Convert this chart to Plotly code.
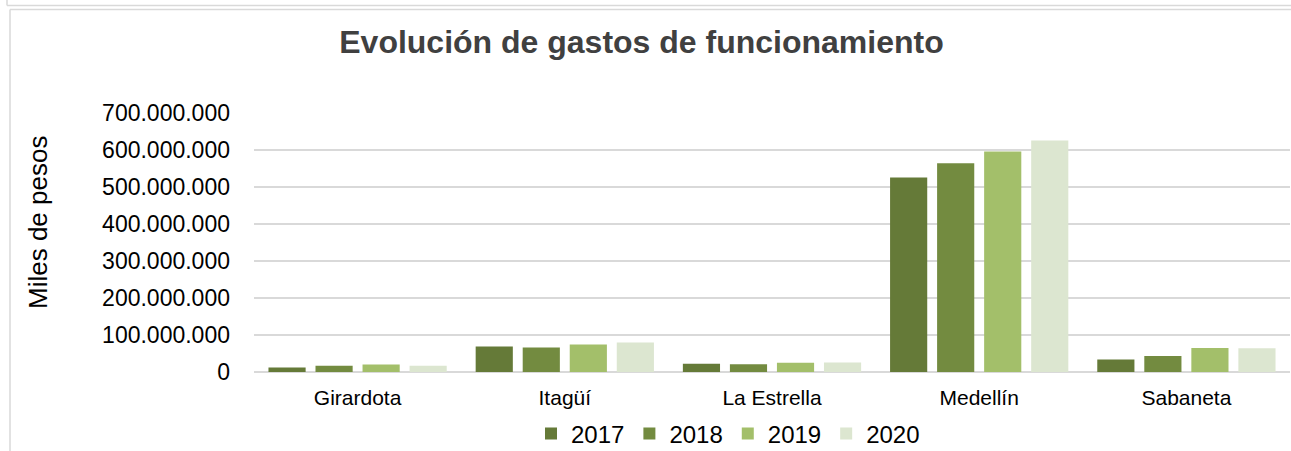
import plotly.graph_objects as go

categories = ["Girardota", "Itagüí", "La Estrella", "Medellín", "Sabaneta"]
years = ["2017", "2018", "2019", "2020"]
v2017 = [12_000_000, 69_000_000, 22_000_000, 526_000_000, 34_000_000]
v2018 = [17_000_000, 66_000_000, 21_000_000, 564_000_000, 43_000_000]
v2019 = [20_000_000, 74_000_000, 25_000_000, 596_000_000, 65_000_000]
v2020 = [17_000_000, 80_000_000, 26_000_000, 626_000_000, 64_000_000]
series = [v2017, v2018, v2019, v2020]
colors = ["#657A38", "#738B40", "#A3BF6A", "#DCE6D0"]
y_ticks = [0, 100_000_000, 200_000_000, 300_000_000, 400_000_000, 500_000_000, 600_000_000, 700_000_000]

W, H = 1291, 451
L, R, T, B = 254, 1290, 113, 372

fig = go.Figure()
for name, vals, c in zip(years, series, colors):
    fig.add_trace(go.Bar(x=categories, y=vals, name=name, marker=dict(color=c, line=dict(width=0))))

def px(x):
    return (x - L) / (R - L)

def py(y):
    return (B - y) / (B - T)

border = "#D9D9D9"
shapes = [
    dict(type="line", xref="paper", yref="paper", x0=px(7), x1=px(1295), y0=py(5.5), y1=py(5.5),
         line=dict(color=border, width=1.5)),
    dict(type="line", xref="paper", yref="paper", x0=px(7), x1=px(7), y0=py(-2), y1=py(5.5),
         line=dict(color=border, width=1.5)),
    dict(type="line", xref="paper", yref="paper", x0=px(10), x1=px(1295), y0=py(9.5), y1=py(9.5),
         line=dict(color=border, width=1.5)),
    dict(type="line", xref="paper", yref="paper", x0=px(10), x1=px(10), y0=py(9.5), y1=py(460),
         line=dict(color=border, width=1.5)),
]

fig.update_layout(
    width=W, height=H,
    margin=dict(l=L, r=W - R, t=T, b=H - B, autoexpand=False),
    paper_bgcolor="white", plot_bgcolor="white",
    separators=",.",
    font=dict(family="Liberation Sans, Arial, sans-serif", color="#000000"),
    title=dict(text="<b>Evolución de gastos de funcionamiento</b>", x=641.5 / W, xanchor="center",
               y=1 - 42 / H, yanchor="middle", font=dict(size=32, color="#404040")),
    barmode="group", bargap=0.092, bargroupgap=0.21,
    xaxis=dict(showgrid=False, showline=False, ticks="", tickfont=dict(size=21, color="#000000"),
               ticklabelstandoff=11),
    yaxis=dict(range=[0, 700_000_000], tickvals=y_ticks, tickformat=",d", showgrid=True,
               gridcolor=border, gridwidth=1.5, zeroline=True, zerolinecolor=border,
               zerolinewidth=1.5, showline=False, ticks="", tickfont=dict(size=23, color="#000000"),
               ticklabelstandoff=23),
    legend=dict(orientation="h", xanchor="center", x=px(728), yanchor="middle", y=py(434),
                font=dict(size=24, color="#000000"), itemwidth=30, traceorder="normal",
                bgcolor="rgba(0,0,0,0)"),
    annotations=[dict(text="Miles de pesos", xref="paper", yref="paper", x=px(38), y=py(223),
                      textangle=-90, showarrow=False, font=dict(size=26, color="#000000"),
                      xanchor="center", yanchor="middle")],
    shapes=shapes,
    showlegend=True,
)

fig.write_html("out.html", config={"displayModeBar": False},
               post_script="document.body.style.margin='0px';")
